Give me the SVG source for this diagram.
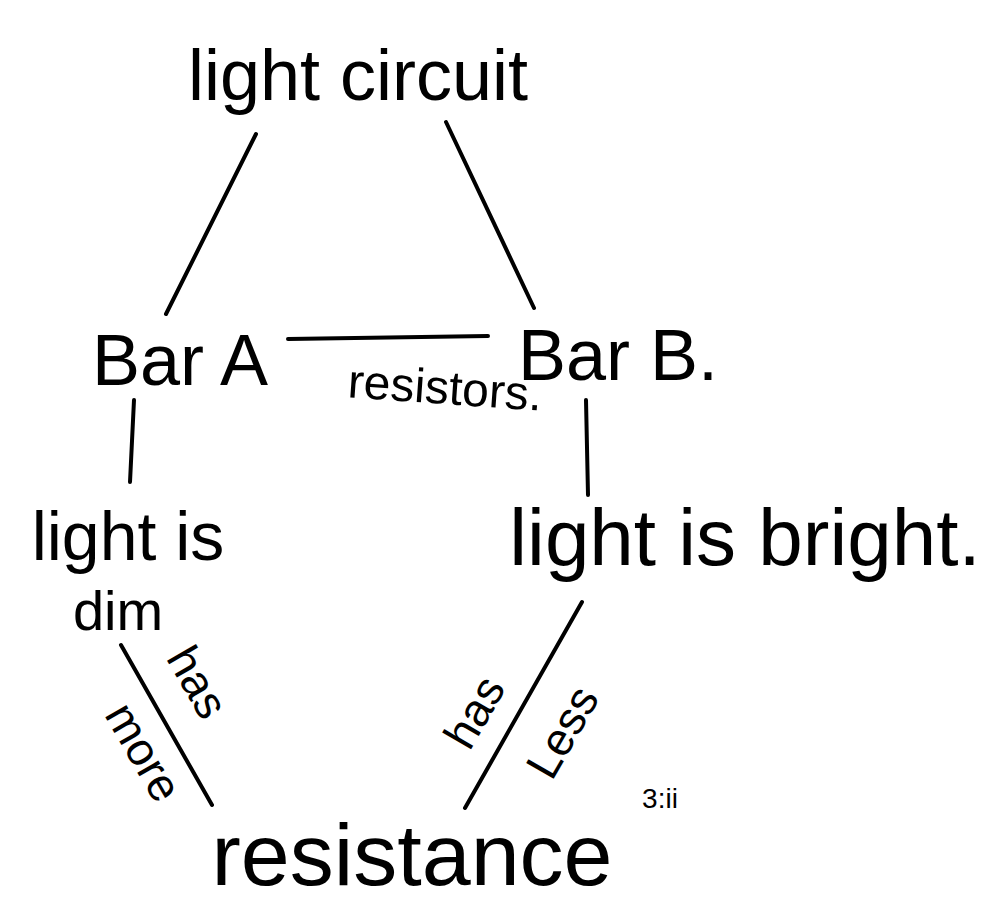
<svg xmlns="http://www.w3.org/2000/svg" width="988" height="919" viewBox="0 0 988 919">
<style>
.t{font-family:"Liberation Sans","DejaVu Sans",sans-serif;fill:#000;}
.c{stroke:#000;stroke-width:4;stroke-linecap:round;fill:none;}
</style>
<rect width="988" height="919" fill="#fff"/>
<g id="connectors">
<line class="c" x1="256" y1="134" x2="166" y2="314"/>
<line class="c" x1="446" y1="122" x2="534" y2="308"/>
<line class="c" x1="288" y1="339" x2="488" y2="336"/>
<line class="c" x1="134" y1="400" x2="130" y2="482"/>
<line class="c" x1="586" y1="400" x2="588" y2="495"/>
<line class="c" x1="121" y1="645" x2="212" y2="805"/>
<line class="c" x1="582" y1="602" x2="465" y2="808"/>
</g>
<g id="edge-labels">
<text class="t" x="0" y="0" font-size="48" text-anchor="middle" transform="translate(444,404) rotate(4)">resistors.</text>
<text class="t" x="0" y="0" font-size="46" text-anchor="middle" transform="translate(184,690) rotate(60)">has</text>
<text class="t" x="0" y="0" font-size="46" text-anchor="middle" transform="translate(130,760) rotate(60)">more</text>
<text class="t" x="0" y="0" font-size="46" text-anchor="middle" transform="translate(488,720) rotate(-60)">has</text>
<text class="t" x="0" y="0" font-size="46" text-anchor="middle" transform="translate(576,740) rotate(-60)">Less</text>
</g>
<g id="node-light-circuit"><text class="t" x="358" y="100" font-size="72" text-anchor="middle">light circuit</text></g>
<g id="node-bar-a"><text class="t" x="180" y="385" font-size="72" text-anchor="middle">Bar A</text></g>
<g id="node-bar-b"><text class="t" x="618" y="380" font-size="72" text-anchor="middle">Bar B.</text></g>
<g id="node-light-dim">
<text class="t" x="128" y="560" font-size="68" text-anchor="middle">light is</text>
<text class="t" x="118" y="630" font-size="56" text-anchor="middle">dim</text>
</g>
<g id="node-light-bright"><text class="t" x="745" y="565" font-size="80" text-anchor="middle">light is bright.</text></g>
<g id="node-resistance"><text class="t" x="412" y="885" font-size="88" text-anchor="middle">resistance</text></g>
<text class="t" x="660" y="808" font-size="28" text-anchor="middle" fill="#444">3:ii</text>
</svg>
